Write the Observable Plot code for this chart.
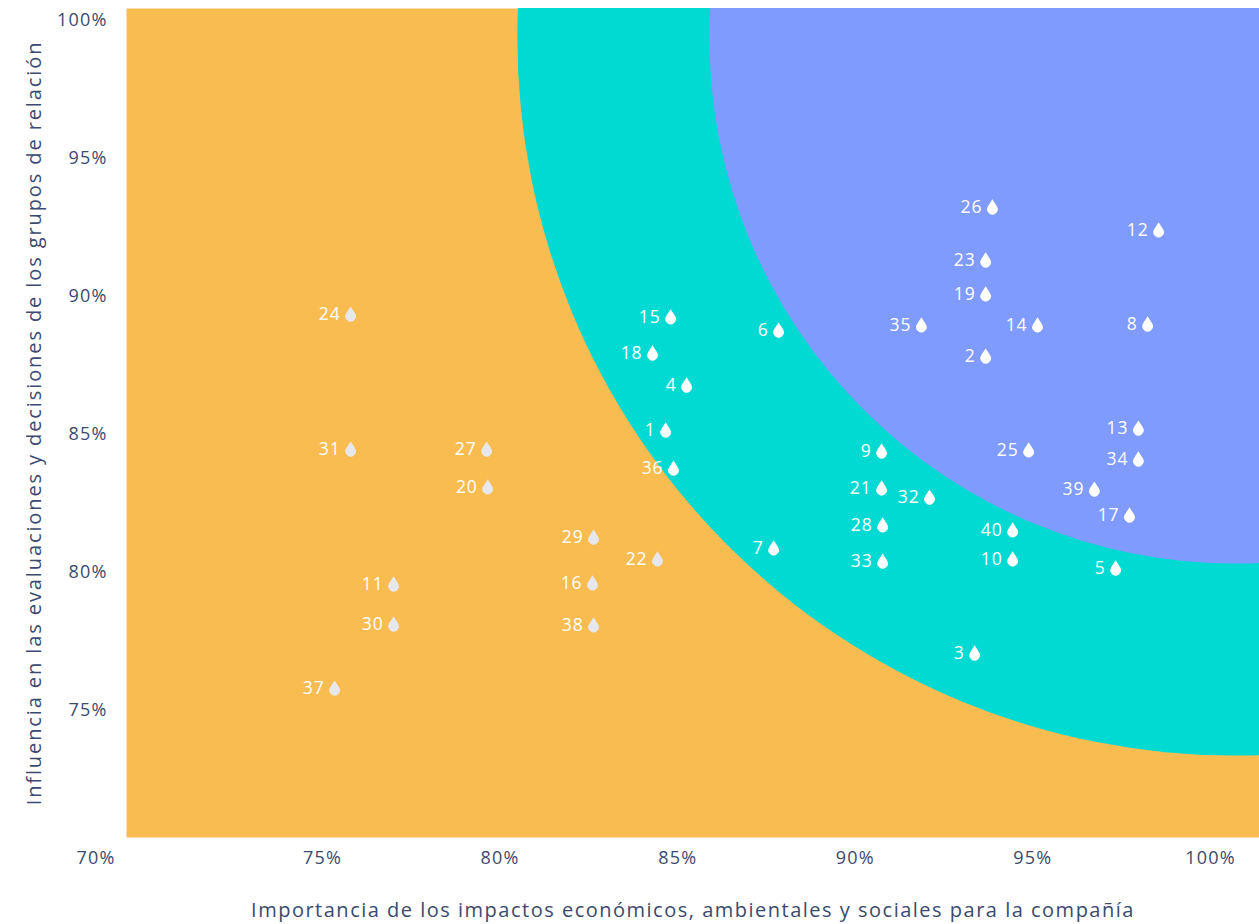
<!DOCTYPE html>
<html>
<head>
<meta charset="utf-8">
<script src="https://cdn.jsdelivr.net/npm/d3@7"></script>
<script src="https://cdn.jsdelivr.net/npm/@observablehq/plot@0.6"></script>
<style>
  html, body { margin: 0; padding: 0; background: #ffffff; }
  #chart svg { display: block; }
  .ttlx text { letter-spacing: 1.5px; }
  .ttly text { letter-spacing: 1.9px; }
  .tk text { letter-spacing: 1.2px; }
  .lbl text { letter-spacing: 0.9px; }
</style>
</head>
<body>
<div id="chart"></div>
<script>
// ---- Data ----
const ids = [1,2,3,4,5,6,7,8,9,10,11,12,13,14,15,16,17,18,19,20,21,22,23,24,25,26,27,28,29,30,31,32,33,34,35,36,37,38,39,40];
const importance = [84.66,93.67,93.36,85.25,97.33,87.84,87.70,98.23,90.74,94.43,77.00,98.54,97.97,95.13,84.80,82.60,97.72,84.29,93.67,79.65,90.74,84.43,93.67,75.79,94.88,93.86,79.62,90.77,82.63,77.00,75.79,92.09,90.77,97.97,91.86,84.88,75.34,82.63,96.73,94.43];
const influence  = [85.18,87.86,77.10,86.81,80.18,88.80,80.91,89.02,84.42,80.51,79.60,92.43,85.25,88.99,89.28,79.64,82.10,87.97,90.11,83.12,83.08,80.51,91.34,89.38,84.46,93.26,84.49,81.74,81.30,78.15,84.49,82.75,80.43,84.13,88.99,83.80,75.83,78.12,83.04,81.56];
const outerZone = [11,16,20,22,24,27,29,30,31,37,38];
const xTicks = [75,80,85,90,95,100];
const yTicks = [75,80,85,90,95,100];
const zoneCenter = [{x: 100.70, y: 99.38}];
const xTitle = "Importancia de los impactos económicos, ambientales y sociales para la compañía";
const yTitle = "Influencia en las evaluaciones y decisiones de los grupos de relación";

const points = ids.map((id, i) => ({id, x: importance[i], y: influence[i], outer: outerZone.includes(id)}));

// droplet symbol
const drop = {
  draw(context, size) {
    const k = Math.sqrt(size / Math.PI) / 7;
    const a = 5.3 * k, c = 2.6 * k, h = 7.2 * k;
    const d = c + h;
    const phi = Math.acos(a / d);
    context.moveTo(0, -h);
    context.arc(0, c, a, -Math.PI / 2 + phi, 3 * Math.PI / 2 - phi, false);
    context.closePath();
  }
};

const navy = "#3b4a6e";
const font = "'Open Sans', Lato, sans-serif";

const chart = Plot.plot({
  width: 1259,
  height: 924,
  marginLeft: 126,
  marginRight: 0,
  marginTop: 8,
  marginBottom: 87,
  style: {fontFamily: font, color: navy, background: "#ffffff"},
  x: {domain: [69.48, 101.38]},
  y: {domain: [70.40, 100.435]},
  marks: [
    Plot.frame({fill: "#f9bc50", stroke: null}),
    Plot.dot(zoneCenter, {x: "x", y: "y", r: 718, fill: "#00dad2", clip: true}),
    Plot.dot(zoneCenter, {x: "x", y: "y", r: 526, fill: "#7f9bfe", clip: true}),
    Plot.dot(points, {x: "x", y: "y", r: 7, symbol: drop, fill: d => d.outer ? "#e7e8ee" : "#ffffff", stroke: null}),
    Plot.text(points, {x: "x", y: "y", text: d => String(d.id), dx: -10, dy: 1, textAnchor: "end", fill: "#ffffff", fontSize: 17.5, fontFamily: font, className: "lbl"}),
    Plot.axisX(xTicks, {tickSize: 0, tickPadding: 14, tickFormat: d => d + "%", fontSize: 18, label: null, fill: navy, className: "tk"}),
    Plot.axisX([70], {tickSize: 0, tickPadding: 14, tickFormat: d => d + "%", fontSize: 18, label: null, fill: navy, dx: -49, className: "tk"}),
    Plot.axisY(yTicks, {tickSize: 0, tickPadding: 19, tickFormat: d => d + "%", fontSize: 18, label: null, fill: navy, className: "tk"}),
    Plot.text([xTitle], {frameAnchor: "bottom", dy: 73, lineAnchor: "middle", textAnchor: "middle", fontSize: 20, fill: navy, fontFamily: font, className: "ttlx"}),
    Plot.text([yTitle], {frameAnchor: "left", dx: -92, rotate: -90, lineAnchor: "middle", textAnchor: "middle", fontSize: 20, fill: navy, fontFamily: font, className: "ttly"})
  ]
});
document.getElementById("chart").appendChild(chart);
</script>
</body>
</html>
